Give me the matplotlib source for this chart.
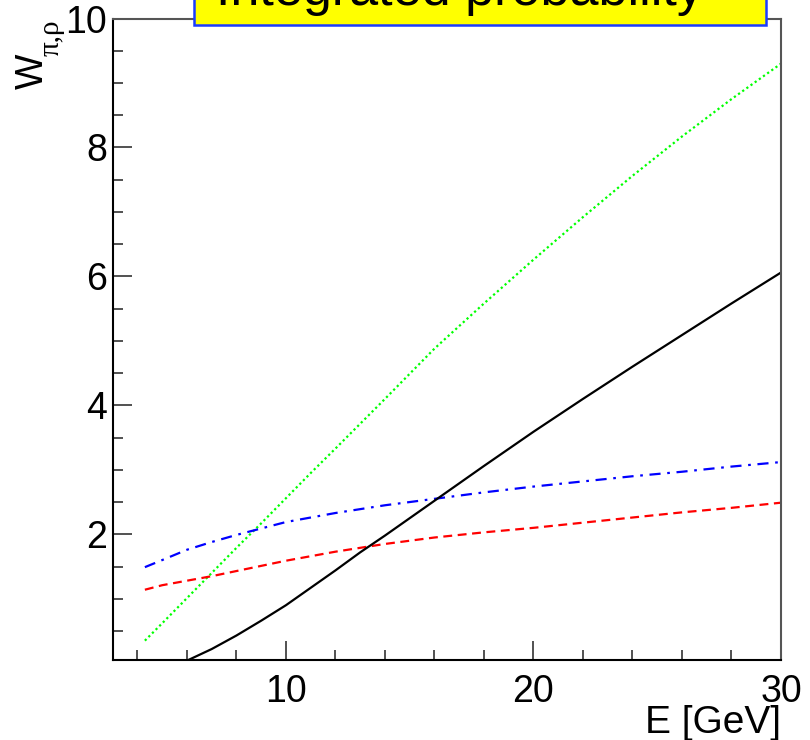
import numpy as np
import matplotlib
matplotlib.use('Agg')
import matplotlib.pyplot as plt
from matplotlib.patches import Rectangle
from matplotlib.ticker import MultipleLocator

plt.rcParams['font.family'] = ['Liberation Sans', 'DejaVu Sans']

# curves (E in GeV)
e_green = [4.3, 5, 6, 7, 8, 9, 10, 11, 12, 14, 16, 18, 20, 22, 24, 26, 28, 30]
w_green = [0.35, 0.62, 1.01, 1.40, 1.79, 2.17, 2.56, 2.95, 3.33, 4.10, 4.88, 5.58,
           6.26, 6.92, 7.56, 8.17, 8.75, 9.30]

e_blue = [4.3, 5, 6, 7, 8, 9, 10, 12, 14, 16, 18, 20, 22, 24, 26, 28, 30]
w_blue = [1.49, 1.60, 1.76, 1.88, 1.99, 2.09, 2.19, 2.33, 2.45, 2.55, 2.65, 2.74,
          2.82, 2.90, 2.97, 3.05, 3.12]

e_red = [4.3, 5, 6, 7, 8, 9, 10, 12, 14, 16, 18, 20, 22, 24, 26, 28, 30]
w_red = [1.14, 1.21, 1.28, 1.35, 1.43, 1.51, 1.59, 1.73, 1.85, 1.95, 2.03, 2.10,
         2.18, 2.26, 2.34, 2.41, 2.49]

e_black = [6.0, 7, 8, 9, 10, 11, 12, 13, 14, 15, 16, 17, 18, 20, 22, 24, 26, 28, 30]
w_black = [0.04, 0.22, 0.43, 0.66, 0.90, 1.17, 1.44, 1.72, 1.98, 2.25, 2.52, 2.79,
           3.06, 3.59, 4.10, 4.60, 5.09, 5.58, 6.06]

W, H = 810, 740
fig = plt.figure(figsize=(W / 100, H / 100), dpi=100)
ax = fig.add_axes([112.7 / W, 1 - 660 / H, (781 - 112.7) / W, (660 - 18.5) / H])

ax.plot(e_green, w_green, color='#00ff00', lw=1.6, linestyle=(0, (1, 1.3)))
ax.plot(e_blue, w_blue, color='#0000ff', lw=1.6, linestyle=(0, (5, 3, 1.2, 3)))
ax.plot(e_red, w_red, color='#ff0000', lw=1.6, linestyle=(0, (4, 2.5)))
ax.plot(e_black, w_black, color='black', lw=1.6)

ax.set_xlim(3, 30)
ax.set_ylim(0.05, 10)
ax.xaxis.set_major_locator(MultipleLocator(10))
ax.xaxis.set_minor_locator(MultipleLocator(2))
ax.yaxis.set_major_locator(MultipleLocator(2))
ax.yaxis.set_minor_locator(MultipleLocator(0.5))
ax.tick_params(which='both', direction='in', top=False, right=False,
               labelsize=27, width=1.2, color='#333333')
ax.tick_params(which='major', length=14)
ax.tick_params(which='minor', length=7)
ax.tick_params(axis='x', pad=10)
ax.tick_params(axis='y', pad=4)

for s in ['left', 'bottom']:
    ax.spines[s].set_linewidth(1.5)
    ax.spines[s].set_color('black')
for s in ['top', 'right']:
    ax.spines[s].set_linewidth(1.5)
    ax.spines[s].set_color('#555555')

ax.set_xlabel('E [GeV]', fontsize=28, loc='right')
ax.xaxis.set_label_coords(1.0, -0.07)

# y label: W with pi,rho subscript, right-aligned at the top like ROOT
fig.text(43 / W, 1 - 54 / H, 'W', fontsize=27, rotation=90,
         rotation_mode='anchor', ha='right', va='baseline')
fig.text(59 / W, 1 - 19 / H, 'π,ρ', fontsize=21, rotation=90,
         family='Liberation Serif', rotation_mode='anchor', ha='right',
         va='baseline')

# title box, cut off at the top like the original
fig.patches.append(Rectangle((194 / W, 1 - 25 / H), (766 - 194) / W, 40 / H,
                             transform=fig.transFigure, facecolor='#ffff00',
                             edgecolor='#1a3cff', lw=1.8, zorder=5))
fig.text(460 / W, 1 - 5 / H, 'Integrated probability', fontsize=37.5,
         ha='center', va='baseline', zorder=6)

fig.savefig('out.png', dpi=100)
